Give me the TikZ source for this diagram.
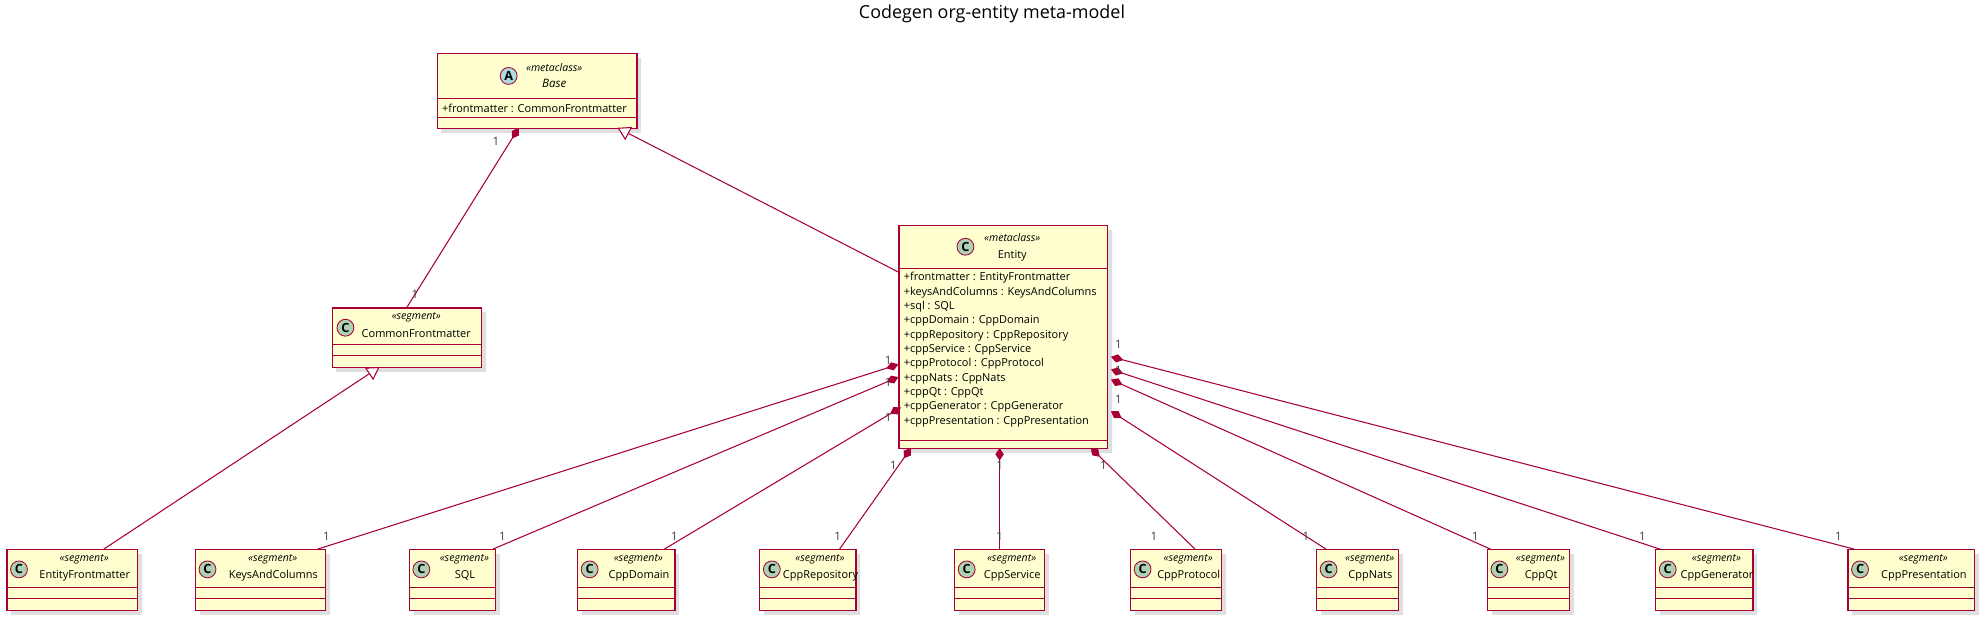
\documentclass[tikz,border=0pt]{standalone}
\usepackage{fontspec}
\setmainfont{Open Sans}
\usetikzlibrary{arrows.meta,shadows}
\definecolor{umlfill}{HTML}{FEFECE}
\definecolor{umlline}{HTML}{A80036}
\definecolor{iconC}{HTML}{ADD1B2}
\definecolor{iconA}{HTML}{A9DCDF}
\tikzset{
  box/.style={draw=umlline, fill=umlfill, line width=0.6pt, inner sep=0pt,
    drop shadow={opacity=0.25, shadow xshift=2pt, shadow yshift=-2pt}},
  sep/.style={draw=umlline, line width=0.5pt},
  icon/.style={circle, draw=umlline, line width=0.4pt, minimum size=8pt, inner sep=0pt,
    font=\fontsize{6}{6}\selectfont\bfseries},
  stereo/.style={font=\fontsize{5}{6}\selectfont\itshape},
  cname/.style={font=\fontsize{5.2}{6}\selectfont},
  attr/.style={font=\fontsize{5.2}{6.8}\selectfont, align=left, inner sep=0pt},
  card/.style={font=\fontsize{5.5}{6}\selectfont, text=black!75},
  link/.style={draw=umlline, line width=0.5pt},
  comp/.style={link, {Diamond[length=6pt,width=4pt]}-},
  inh/.style={link, -{Triangle[open,length=6pt,width=7pt,fill=white]}},
}
\newcommand\segbox[4]{%
  \node[box, anchor=north west, minimum width={(#3-#2)*0.6pt}, minimum height={48*0.6pt}] (#1) at (#2,434) {};
  \draw[sep] (#2,464) -- (#3,464);
  \draw[sep] (#2,473) -- (#3,473);
  \node[icon, fill=iconC] at (#2+10,450) {C};
  \node[stereo] at ({(#2+#3)/2+10},442) {«segment»};
  \node[cname] at ({(#2+#3)/2+10.5},455) {#4};
}
\begin{document}
\begin{tikzpicture}[x=0.6pt,y=-0.6pt]
\useasboundingbox (0,0) rectangle (1568,488);
\node[font=\fontsize{8.5}{10}\selectfont] (title) at (784,11) {Codegen org-entity meta-model};

% abstract base
\node[box, anchor=north west, minimum width={158*0.6pt}, minimum height={59*0.6pt}] (base) at (345,42) {};
\draw[sep] (345,78) -- (503,78);
\draw[sep] (345,93) -- (503,93);
\node[icon, fill=iconA] at (402,60) {A};
\node[stereo] at (438,53) {«metaclass»};
\node[stereo, font=\fontsize{5.5}{7}\selectfont\itshape] at (438,66) {Base};
\node[attr, anchor=west] at (349,85.5) {+frontmatter : CommonFrontmatter};

% entity
\node[box, anchor=north west, minimum width={165*0.6pt}, minimum height={176*0.6pt}] (ent) at (710,178) {};
\draw[sep] (710,212) -- (875,212);
\draw[sep] (710,348) -- (875,348);
\node[icon, fill=iconC] at (763,195) {C};
\node[stereo] at (800,188) {«metaclass»};
\node[cname] at (800,202) {Entity};
\node[attr, anchor=north west] at (714,215) {+frontmatter : EntityFrontmatter\\+keysAndColumns : KeysAndColumns\\+sql : SQL\\+cppDomain : CppDomain\\+cppRepository : CppRepository\\+cppService : CppService\\+cppProtocol : CppProtocol\\+cppNats : CppNats\\+cppQt : CppQt\\+cppGenerator : CppGenerator\\+cppPresentation : CppPresentation};

% common frontmatter
\node[box, anchor=north west, minimum width={118*0.6pt}, minimum height={47*0.6pt}] (common) at (262,243) {};
\draw[sep] (262,272) -- (380,272);
\draw[sep] (262,281) -- (380,281);
\node[icon, fill=iconC] at (273,259) {C};
\node[stereo] at (329,251) {«segment»};
\node[cname] at (329,264) {CommonFrontmatter};

% segments
\segbox{efm}{5}{108}{EntityFrontmatter}
\segbox{kac}{154}{257}{KeysAndColumns}
\segbox{sql}{323}{391}{SQL}
\segbox{dom}{456}{533}{CppDomain}
\segbox{rep}{600}{676}{CppRepository}
\segbox{svc}{754}{825}{CppService}
\segbox{pro}{893}{965}{CppProtocol}
\segbox{nat}{1040}{1105}{CppNats}
\segbox{cqt}{1175}{1240}{CppQt}
\segbox{gen}{1308}{1385}{CppGenerator}
\segbox{pre}{1460}{1560}{CppPresentation}

% connectors
\draw[comp] (410,101) -- (common.north |- 0,243) coordinate (c1);
\node[card] at (392,112) {1};
\node[card] at (328,233) {1};
\draw[inh] (ent.west |- 0,215) -- (488,101);
\draw[inh] (efm.north) ++(25,0) -- (300,290);

\foreach \from/\to/\ex/\fx/\ey [count=\i] in {
  710/kac/45/-7/288, 710/sql/32/-8/298, 712/dom/30/-5/322,
  720/rep/25/-8/354, 790/svc/0/0/354, 862/pro/15/-6/354,
  878/nat/-25/6/325, 878/cqt/-30/6/300, 878/gen/-35/6/292, 878/pre/-45/6/282}{
  \draw[comp] (\from,\ey) -- ([xshift=\ex*0.6pt]\to.north);
}
% cardinalities
\foreach \cx/\cy in {702/285, 702/302, 702/330, 706/368, 790/368, 872/368,
  884/272, 884/293, 884/316,
  258/424, 397/424, 533/424, 662/424, 790/424, 912/424, 1032/424, 1166/424, 1298/424, 1453/424}
  \node[card] at (\cx,\cy) {1};
\end{tikzpicture}
\end{document}
